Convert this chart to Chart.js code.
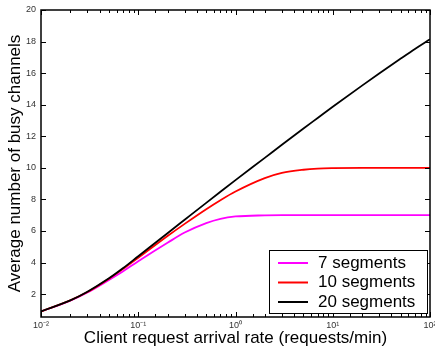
<!DOCTYPE html>
<html>
<head>
<meta charset="utf-8">
<script src="https://cdn.jsdelivr.net/npm/chart.js@4"></script>
<style>
  html, body { margin: 0; padding: 0; background: #fff; }
  #wrap { width: 435px; height: 351px; }
</style>
</head>
<body>
<div id="wrap"><canvas id="c" width="435" height="351"></canvas></div>
<script>
// Średnia liczba zajętych kanałów vs. intensywność zgłoszeń (skala log).
const RATES = [0.01, 0.02, 0.03, 0.05, 0.07, 0.1, 0.2, 0.3, 0.5, 0.7, 1, 2, 3, 5, 7, 10, 20, 30, 50, 70, 100];
const BUSY_7 = [0.9, 1.58, 2.1, 2.9, 3.45, 4.08, 5.25, 5.9, 6.5, 6.77, 6.92, 6.99, 7.0, 7.0, 7.0, 7.0, 7.0, 7.0, 7.0, 7.0, 7.0];
const BUSY_10 = [0.9, 1.6, 2.13, 2.98, 3.6, 4.3, 5.68, 6.45, 7.38, 7.95, 8.5, 9.35, 9.68, 9.88, 9.95, 9.98, 10, 10, 10, 10, 10];
const BUSY_20 = [0.9, 1.6, 2.15, 3.0, 3.65, 4.4, 5.86, 6.71, 7.78, 8.48, 9.22, 10.63, 11.46, 12.49, 13.16, 13.87, 15.21, 15.98, 16.92, 17.53, 18.15];
const SERIES = ["7 segments", "10 segments", "20 segments"];
const COLORS = ["#ff00ff", "#ff0000", "#000000"];
const Y_TICKS = [2, 4, 6, 8, 10, 12, 14, 16, 18, 20];
const X_LABELS = { "-2": "10⁻²", "-1": "10⁻¹", "0": "10⁰", "1": "10¹", "2": "10²" };

const FONT = "'Liberation Sans', Arial, Helvetica, sans-serif";
const pts = (arr) => RATES.map((x, i) => ({ x, y: arr[i] }));
const isMajor = (v) => Math.abs(Math.log10(v) - Math.round(Math.log10(v))) < 1e-9;

// Ramka w stylu MATLAB-a: ticki do środka na wszystkich czterech bokach + legenda w rogu.
const frame = {
  id: "frame",
  afterDraw(chart) {
    const { ctx, chartArea: a, scales: { x, y } } = chart;
    ctx.save();
    ctx.strokeStyle = "#000";
    ctx.lineWidth = 1;
    ctx.beginPath();
    x.ticks.forEach((t) => {
      const px = Math.round(x.getPixelForValue(t.value)) + 0.5;
      const len = isMajor(t.value) ? 5 : 3;
      ctx.moveTo(px, a.bottom); ctx.lineTo(px, a.bottom - len);
      ctx.moveTo(px, a.top); ctx.lineTo(px, a.top + len);
    });
    y.ticks.forEach((t) => {
      const py = Math.round(y.getPixelForValue(t.value)) + 0.5;
      ctx.moveTo(a.left, py); ctx.lineTo(a.left + 5, py);
      ctx.moveTo(a.right, py); ctx.lineTo(a.right - 5, py);
    });
    ctx.stroke();
    ctx.lineWidth = 1.5;
    ctx.strokeRect(a.left, a.top, a.right - a.left, a.bottom - a.top);

    // legenda
    const bx = 269, by = 250, bw = 158, bh = 63;
    ctx.fillStyle = "#fff";
    ctx.fillRect(bx, by, bw, bh);
    ctx.lineWidth = 1;
    ctx.strokeRect(bx + 0.5, by + 0.5, bw, bh);
    ctx.font = `17px ${FONT}`;
    ctx.textBaseline = "middle";
    SERIES.forEach((name, i) => {
      const ry = by + 13 + i * 19.5;
      ctx.strokeStyle = COLORS[i];
      ctx.lineWidth = 2;
      ctx.beginPath();
      ctx.moveTo(bx + 9, ry); ctx.lineTo(bx + 39, ry);
      ctx.stroke();
      ctx.fillStyle = "#000";
      ctx.fillText(name, bx + 49, ry);
    });
    ctx.restore();
  },
};

new Chart(document.getElementById("c"), {
  type: "line",
  data: {
    datasets: [BUSY_7, BUSY_10, BUSY_20].map((arr, i) => ({
      label: SERIES[i],
      data: pts(arr),
      borderColor: COLORS[i],
      backgroundColor: COLORS[i],
      borderWidth: 1.8,
      pointRadius: 0,
      cubicInterpolationMode: "monotone",
      order: 3 - i,
    })),
  },
  options: {
    responsive: false,
    animation: false,
    layout: { padding: { top: 10, right: 5, left: 0, bottom: 0 } },
    plugins: { legend: { display: false }, tooltip: { enabled: false } },
    scales: {
      x: {
        type: "logarithmic", min: 0.01, max: 100,
        border: { display: false },
        grid: { display: false, drawTicks: false },
        ticks: {
          autoSkip: false, maxRotation: 0, padding: 3,
          font: { family: FONT, size: 9 }, color: "#333",
          callback: (v) => (isMajor(v) ? X_LABELS[String(Math.round(Math.log10(v)))] : ""),
        },
        title: {
          display: true, text: "Client request arrival rate (requests/min)",
          font: { family: FONT, size: 17 }, color: "#000", padding: { top: 0, bottom: 2 },
        },
        afterFit: (axis) => { axis.height = 34; axis.paddingLeft = 0; axis.paddingRight = 0; },
      },
      y: {
        min: 0.55, max: 20,
        border: { display: false },
        grid: { display: false, drawTicks: false },
        afterBuildTicks: (axis) => { axis.ticks = Y_TICKS.map((v) => ({ value: v })); },
        ticks: { padding: 5, font: { family: FONT, size: 9 }, color: "#333" },
        title: {
          display: true, text: "Average number of busy channels",
          font: { family: FONT, size: 17 }, color: "#000", padding: { top: 5, bottom: 0 },
        },
        afterFit: (axis) => { axis.width = 41; axis.paddingTop = 0; axis.paddingBottom = 0; },
      },
    },
  },
  plugins: [frame],
});
</script>
</body>
</html>
